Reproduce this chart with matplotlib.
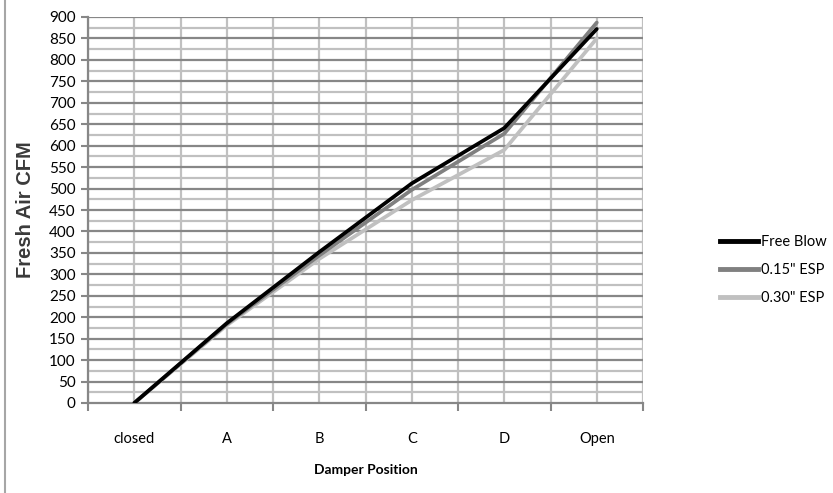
import matplotlib
matplotlib.use("Agg")
import matplotlib.pyplot as plt
from matplotlib.lines import Line2D
import numpy as np

categories = ["closed", "A", "B", "C", "D", "Open"]
free_blow = [0, 186, 352, 512, 641, 872]
esp_015 = [0, 184, 344, 497, 628, 887]
esp_030 = [0, 181, 336, 473, 590, 850]

series = [
    ("Free Blow", free_blow, "#000000"),
    ('0.15" ESP', esp_015, "#808080"),
    ('0.30" ESP', esp_030, "#c0c0c0"),
]

tick_font = "Lato"

fig = plt.figure(figsize=(8.33, 4.93), dpi=100)
ax = fig.add_axes([88/833, 1 - 403/493, (643-88)/833, (403-17)/493])

x = np.arange(len(categories))

# grid
for v in np.arange(25, 901, 50):
    ax.axhline(v, color="#c0c0c0", lw=1.6, zorder=1)
for v in np.arange(50, 901, 50):
    ax.axhline(v, color="#878787", lw=1.6, zorder=1.2)
for v in np.arange(0, len(categories) + 0.01, 0.5):
    ax.axvline(v - 0.5, color="#c0c0c0", lw=1.6, zorder=1.1)

for name, vals, col in reversed(series):
    ax.plot(x, vals, color=col, lw=2.7, solid_capstyle="round", zorder=3, label=name)

ax.set_xlim(-0.5, len(categories) - 0.5)
ax.set_ylim(0, 900)

ax.set_yticks(np.arange(0, 901, 50))
ax.set_yticklabels([str(v) for v in range(0, 901, 50)], fontsize=11, family=tick_font)
ax.tick_params(axis="y", length=5, width=1.5, color="#878787", pad=4)

ax.set_xticks(np.arange(-0.5, len(categories), 1.0))
ax.set_xticklabels([])
ax.tick_params(axis="x", which="major", length=6, width=1.5, color="#878787")
ax.set_xticks(x, minor=True)
ax.set_xticklabels(categories, minor=True, fontsize=10.5, family=tick_font)
ax.tick_params(axis="x", which="minor", length=0, pad=21)

for s in ["top", "right"]:
    ax.spines[s].set_visible(False)
for s in ["left", "bottom"]:
    ax.spines[s].set_color("#878787")
    ax.spines[s].set_linewidth(1.6)
    ax.spines[s].set_zorder(2)

ax.set_ylabel("Fresh Air CFM", fontsize=14.5, fontweight="bold", family="Liberation Sans",
              color="#3a3a3a", labelpad=10)
ax.set_xlabel("Damper Position", fontsize=10, fontweight="bold", family=tick_font, labelpad=13)

handles = [Line2D([0], [0], color=c, lw=3.5) for _, _, c in series]
labels = [n for n, _, _ in series]
leg = fig.legend(handles, labels, loc="center left", bbox_to_anchor=(720/833, 1 - 270/493),
                 frameon=False, handlelength=2.6, handletextpad=0.2, labelspacing=0.95,
                 borderaxespad=0, borderpad=0,
                 prop={"family": tick_font, "size": 10.5})

fig.add_artist(Line2D([5/833, 5/833], [0.0, 1.0], transform=fig.transFigure,
                      color="#a6a6a6", lw=1.5))

fig.savefig("out.png", dpi=100, facecolor="white")
